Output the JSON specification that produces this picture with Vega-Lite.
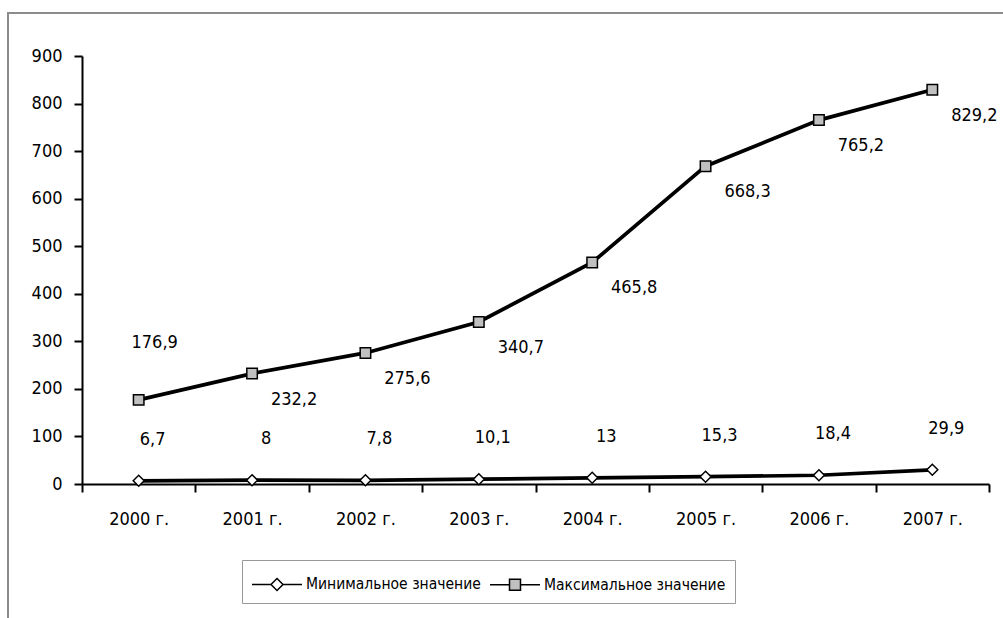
{
  "$schema": "https://vega.github.io/schema/vega-lite/v6.json",
  "width": 1005,
  "height": 615,
  "autosize": {"type": "none"},
  "padding": {"left": 8, "top": 13, "right": 0, "bottom": 0},
  "background": "white",
  "config": {
    "font": "DejaVu Sans Condensed",
    "view": {"stroke": "#8c8c8c", "strokeWidth": 2},
    "locale": {"number": {"decimal": ",", "thousands": " ", "grouping": [3], "currency": ["", ""]}},
    "axis": {
      "grid": false,
      "domainColor": "black",
      "tickColor": "black",
      "domainWidth": 2,
      "tickWidth": 2,
      "labelFontSize": 18,
      "labelColor": "black",
      "title": null
    },
    "legend": {"labelFontSize": 15.5, "labelColor": "black", "labelLimit": 400}
  },
  "data": {
    "values": [
      {"year": "2000 г.", "series": "Минимальное значение", "value": 6.7},
      {"year": "2001 г.", "series": "Минимальное значение", "value": 8},
      {"year": "2002 г.", "series": "Минимальное значение", "value": 7.8},
      {"year": "2003 г.", "series": "Минимальное значение", "value": 10.1},
      {"year": "2004 г.", "series": "Минимальное значение", "value": 13},
      {"year": "2005 г.", "series": "Минимальное значение", "value": 15.3},
      {"year": "2006 г.", "series": "Минимальное значение", "value": 18.4},
      {"year": "2007 г.", "series": "Минимальное значение", "value": 29.9},
      {"year": "2000 г.", "series": "Максимальное значение", "value": 176.9},
      {"year": "2001 г.", "series": "Максимальное значение", "value": 232.2},
      {"year": "2002 г.", "series": "Максимальное значение", "value": 275.6},
      {"year": "2003 г.", "series": "Максимальное значение", "value": 340.7},
      {"year": "2004 г.", "series": "Максимальное значение", "value": 465.8},
      {"year": "2005 г.", "series": "Максимальное значение", "value": 668.3},
      {"year": "2006 г.", "series": "Максимальное значение", "value": 765.2},
      {"year": "2007 г.", "series": "Максимальное значение", "value": 829.2}
    ]
  },
  "encoding": {
    "x": {
      "field": "year",
      "type": "ordinal",
      "sort": null,
      "scale": {"type": "band", "range": [74, 981], "paddingInner": 0, "paddingOuter": 0},
      "axis": {"tickBand": "extent", "tickSize": 8, "labelPadding": 18, "offset": -144, "labelAngle": 0}
    },
    "y": {
      "field": "value",
      "type": "quantitative",
      "scale": {"domain": [0, 900], "range": [471, 43], "nice": false},
      "axis": {"values": [0, 100, 200, 300, 400, 500, 600, 700, 800, 900], "offset": -74, "tickSize": 8, "labelPadding": 12}
    }
  },
  "layer": [
    {
      "mark": {"type": "line", "color": "black", "strokeWidth": 3.7},
      "encoding": {"detail": {"field": "series"}}
    },
    {
      "mark": {"type": "point", "filled": true, "opacity": 0, "stroke": "black", "strokeWidth": 2.5, "size": 784},
      "encoding": {
        "shape": {
          "field": "series",
          "type": "nominal",
          "scale": {
            "domain": ["Минимальное значение", "Максимальное значение"],
            "range": [
              "M-1,0H0.357M1.214,0H2.571M0.786,-0.429L1.214,0L0.786,0.429L0.357,0Z",
              "M-1,0H0.393M1.179,0H2.571M0.393,-0.393H1.179V0.393H0.393Z"
            ]
          },
          "legend": {
            "orient": "none",
            "legendX": 234,
            "legendY": 547,
            "direction": "horizontal",
            "title": null,
            "symbolSize": 784,
            "labelOffset": 25,
            "columnPadding": 6,
            "padding": 9,
            "strokeColor": "#999999",
            "fillColor": "white",
            "symbolOpacity": 1,
            "encode": {
              "legend": {"strokeWidth": {"value": 1.5}},
              "symbols": {
                "fill": {"signal": "datum.value === 'Минимальное значение' ? 'white' : '#c0c0c0'"},
                "stroke": {"value": "black"},
                "strokeWidth": {"value": 2.5},
                "opacity": {"value": 1}
              }
            }
          }
        },
        "fill": {
          "field": "series",
          "type": "nominal",
          "scale": {"domain": ["Минимальное значение", "Максимальное значение"], "range": ["white", "#c0c0c0"]},
          "legend": null
        }
      }
    },
    {
      "transform": [{"filter": "datum.series === 'Минимальное значение'"}],
      "mark": {"type": "point", "shape": "diamond", "filled": true, "fill": "white", "opacity": 1, "stroke": "black", "strokeWidth": 1.5, "size": 120}
    },
    {
      "transform": [{"filter": "datum.series === 'Максимальное значение'"}],
      "mark": {"type": "point", "shape": "square", "filled": true, "fill": "#c0c0c0", "opacity": 1, "stroke": "black", "strokeWidth": 1.5, "size": 110}
    },
    {
      "transform": [{"filter": "datum.series === 'Минимальное значение'"}],
      "mark": {"type": "text", "fontSize": 18, "color": "black", "dx": 14, "dy": -41},
      "encoding": {"text": {"field": "value", "type": "quantitative", "format": ".1~f"}}
    },
    {
      "transform": [{"filter": "datum.series === 'Максимальное значение' && datum.year !== '2000 г.'"}],
      "mark": {"type": "text", "fontSize": 18, "color": "black", "dx": 42, "dy": 26},
      "encoding": {"text": {"field": "value", "type": "quantitative", "format": ".1~f"}}
    },
    {
      "transform": [{"filter": "datum.series === 'Максимальное значение' && datum.year === '2000 г.'"}],
      "mark": {"type": "text", "fontSize": 18, "color": "black", "dx": 16, "dy": -57},
      "encoding": {"text": {"field": "value", "type": "quantitative", "format": ".1~f"}}
    }
  ]
}
